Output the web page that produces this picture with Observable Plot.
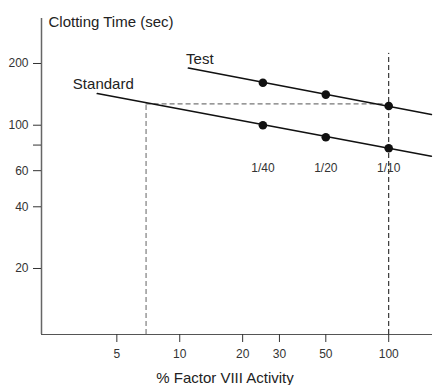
<!DOCTYPE html>
<html>
<head>
<meta charset="utf-8">
<script src="https://cdn.jsdelivr.net/npm/d3@7"></script>
<script src="https://cdn.jsdelivr.net/npm/@observablehq/plot@0.6"></script>
<style>
  html, body { margin: 0; padding: 0; background: #fff; }
</style>
</head>
<body>
<div id="chart"></div>
<script>
// ---- data ----
const dilutions = ["1/40", "1/20", "1/10"];
const activity = [25, 50, 100];          // % Factor VIII activity
const testTime = [161, 141, 124];        // clotting time (sec), test plasma
const standardTime = [100, 87.4, 77.2];  // clotting time (sec), standard
const seriesNames = ["Test", "Standard"];
// fitted line end points [activity, time]
const testLine = [[11, 190], [160, 112.8]];
const standardLine = [[4.03, 142.7], [160, 70.6]];
// reference (read-off) lines
const refActivity = 6.9;
const refTime = 127;
const fullActivity = 100;
const fullTop = 224;
// axes
const xTicks = [5, 10, 20, 30, 50, 100];
const yTicks = [20, 40, 60, 80, 100, 200];
const yUnlabeled = [80];
const xDomain = [2.18, 162];
const yDomain = [9.53, 331.5];
const xTitle = "% Factor VIII Activity";
const yTitle = "Clotting Time (sec)";

const testPts = activity.map((a, i) => ({x: a, y: testTime[i], label: dilutions[i]}));
const stdPts = activity.map((a, i) => ({x: a, y: standardTime[i], label: dilutions[i]}));
const lineRows = [
  ...testLine.map(([x, y]) => ({x, y, s: seriesNames[0]})),
  ...standardLine.map(([x, y]) => ({x, y, s: seriesNames[1]}))
];

const font = "'Liberation Sans', Arial, Helvetica, sans-serif";

const chart = Plot.plot({
  width: 433,
  height: 385,
  marginLeft: 41,
  marginRight: 1,
  marginTop: 18,
  marginBottom: 51,
  style: {fontFamily: font, fontSize: "12px", background: "#fff", color: "#333"},
  x: {type: "log", domain: xDomain},
  y: {type: "log", domain: yDomain},
  marks: [
    // reference dashed lines
    Plot.ruleY([refTime], {x1: refActivity, x2: fullActivity, stroke: "#777", strokeWidth: 1.2, strokeDasharray: "5,3"}),
    Plot.ruleX([refActivity], {y1: yDomain[0], y2: refTime, stroke: "#888", strokeWidth: 1.3, strokeDasharray: "5,3"}),
    Plot.ruleX([fullActivity], {y1: yDomain[0], y2: fullTop, stroke: "#111", strokeWidth: 1, strokeDasharray: "5,3"}),
    // axis lines
    Plot.ruleX([xDomain[0]], {stroke: "#666", strokeWidth: 1.5}),
    Plot.ruleY([yDomain[0]], {stroke: "#555", strokeWidth: 1.2}),
    Plot.axisX({ticks: xTicks, tickSize: 8, tickPadding: 7, tickFormat: d => String(d), label: null, fontSize: 12, color: "#333", strokeWidth: 1}),
    Plot.axisY({ticks: yTicks, tickSize: 8, tickPadding: 5, tickFormat: d => yUnlabeled.includes(d) ? "" : String(d), label: null, fontSize: 12, color: "#333", strokeWidth: 1}),
    // regression lines
    Plot.line(lineRows, {x: "x", y: "y", z: "s", stroke: "#111", strokeWidth: 1.6}),
    // points
    Plot.dot([...testPts, ...stdPts], {x: "x", y: "y", r: 4.3, fill: "#111", stroke: "none"}),
    // dilution labels
    Plot.text(stdPts, {x: "x", text: "label", frameAnchor: "top", dy: 153.3, lineAnchor: "bottom", fontSize: 12, fill: "#333"}),
    // series labels
    Plot.text([{x: testLine[0][0], y: testLine[0][1], t: seriesNames[0]}], {x: "x", y: "y", text: "t", textAnchor: "start", lineAnchor: "bottom", dx: -2.3, dy: -4, fontSize: 15, fill: "#222"}),
    Plot.text([{x: standardLine[0][0], y: standardLine[0][1], t: seriesNames[1]}], {x: "x", y: "y", text: "t", textAnchor: "start", lineAnchor: "bottom", dx: -24.4, dy: -4.8, fontSize: 15, fill: "#222"}),
    // axis titles
    Plot.text([yTitle], {text: d => d, frameAnchor: "top-left", textAnchor: "start", lineAnchor: "bottom", dx: 7, dy: 8, fontSize: 15, fill: "#222"}),
    Plot.text([xTitle], {text: d => d, frameAnchor: "bottom", textAnchor: "middle", lineAnchor: "bottom", dx: -12, dy: 48.5, fontSize: 15, fill: "#222"})
  ]
});

document.getElementById("chart").appendChild(chart);
</script>
</body>
</html>
